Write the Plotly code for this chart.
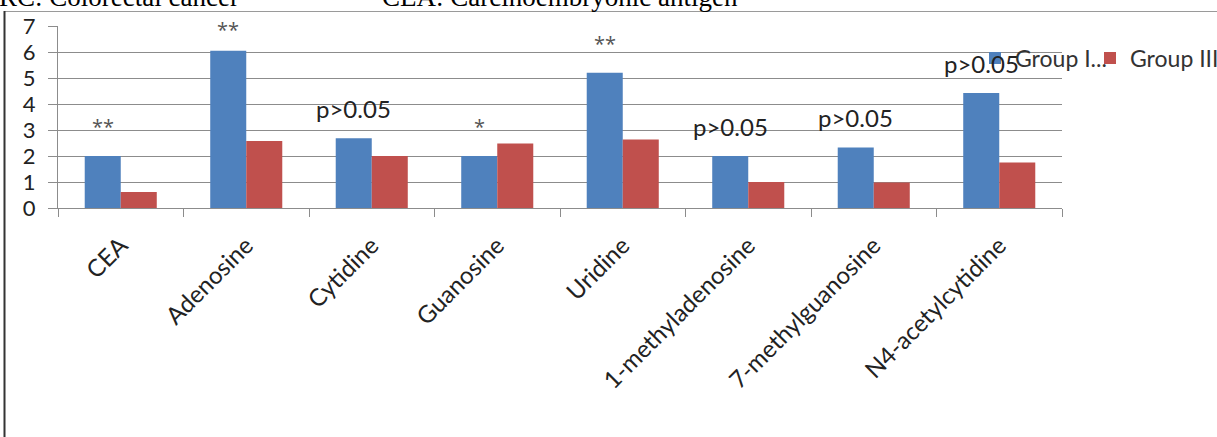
import plotly.graph_objects as go

categories = ["CEA", "Adenosine", "Cytidine", "Guanosine", "Uridine",
              "1-methyladenosine", "7-methylguanosine", "N4-acetylcytidine"]
group1 = [2.0, 6.05, 2.68, 2.0, 5.2, 2.0, 2.33, 4.42]
group3 = [0.62, 2.58, 2.0, 2.48, 2.63, 1.0, 0.98, 1.75]
significance = ["**", "**", "p>0.05", "*", "**", "p>0.05", "p>0.05", "p>0.05"]
y_ticks = [0, 1, 2, 3, 4, 5, 6, 7]

BLUE = "#4F81BD"
RED = "#C0504D"
GRID = "#8C8C8C"
FONT = "Lato"
Y_MAX = 7
LABEL_ROOM = 1.25  # labels are kept inside the plot area, like the original

fig = go.Figure()
fig.add_trace(go.Bar(x=categories, y=group1, name="Group I...", legend="legend",
                     marker=dict(color=BLUE, line=dict(width=0))))
fig.add_trace(go.Bar(x=categories, y=group3, name="Group III", legend="legend2",
                     marker=dict(color=RED, line=dict(width=0))))

for cat, v, s in zip(categories, group1, significance):
    star = "*" in s
    fig.add_annotation(x=cat, y=min(v, Y_MAX - LABEL_ROOM), xref="x", yref="y",
                       text=s, showarrow=False,
                       xanchor="center", yanchor="bottom", xshift=-18,
                       yshift=14 if star else 13,
                       font=dict(family="Open Sans" if star else FONT,
                                 size=20 if star else 24,
                                 color="#555555" if star else "#222222"))

L, R, T, B = 58, 155, 26, 229
W, H = 1217, 437
pw, ph = W - L - R, H - T - B

def px_x(p):
    return (p - L) / pw

def px_y(p):
    return (H - B - p) / ph

# document caption remnants at top
fig.add_annotation(xref="paper", yref="paper", x=px_x(241), y=px_y(14),
                   text="CRC: Colorectal cancer", showarrow=False,
                   xanchor="right", yanchor="bottom",
                   font=dict(family="Liberation Serif", size=27, color="#000000"))
fig.add_annotation(xref="paper", yref="paper", x=px_x(380), y=px_y(14),
                   text="CEA: Carcinoembryonic antigen", showarrow=False,
                   xanchor="left", yanchor="bottom",
                   font=dict(family="Liberation Serif", size=27, color="#000000"))

fig.add_shape(type="line", xref="paper", yref="paper",
              x0=px_x(4), x1=px_x(W), y0=px_y(11.5), y1=px_y(11.5),
              line=dict(color="#9A9A9A", width=1))
fig.add_shape(type="line", xref="paper", yref="paper",
              x0=px_x(4.5), x1=px_x(4.5), y0=px_y(11), y1=px_y(H),
              line=dict(color="#333333", width=2))

legend_common = dict(orientation="h", xanchor="left", yanchor="middle",
                     bgcolor="rgba(0,0,0,0)", borderwidth=0,
                     font=dict(family=FONT, size=23, color="#333333"),
                     itemclick=False, itemdoubleclick=False)

fig.update_layout(
    width=W, height=H,
    margin=dict(l=L, r=R, t=T, b=B, pad=0, autoexpand=False),
    paper_bgcolor="white", plot_bgcolor="white",
    barmode="group", bargap=0.426, bargroupgap=0,
    font=dict(family=FONT, size=24, color="#222222"),
    showlegend=True,
    legend=dict(x=px_x(975), y=px_y(58), **legend_common),
    legend2=dict(x=px_x(1090), y=px_y(58), **legend_common),
    xaxis=dict(type="category", tickangle=-45, ticks="outside",
               tickson="boundaries", ticklen=8, tickcolor=GRID,
               showline=True, linecolor=GRID, linewidth=1, showgrid=False,
               ticklabelstandoff=13, automargin=False,
               tickfont=dict(family=FONT, size=24, color="#222222")),
    yaxis=dict(range=[0, Y_MAX], tickvals=y_ticks, ticks="outside", ticklen=9,
               tickcolor=GRID, showline=True, linecolor=GRID, linewidth=1,
               showgrid=True, gridcolor=GRID, gridwidth=1, zeroline=False,
               ticklabelstandoff=8, automargin=False,
               tickfont=dict(family=FONT, size=22, color="#222222")),
)

fig.write_html("out.html", config={"displayModeBar": False},
               post_script="document.body.style.margin='0';")
